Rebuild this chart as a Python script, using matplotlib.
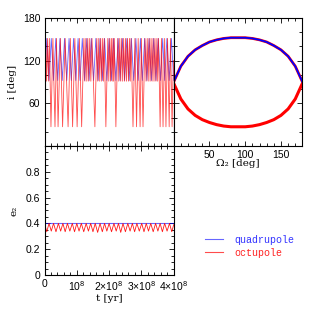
"""Inclusion and eccentricity evolution: quadrupole vs octupole."""
import matplotlib
matplotlib.use("Agg")
import matplotlib.pyplot as plt
from matplotlib.lines import Line2D
from matplotlib.ticker import MultipleLocator
import numpy as np

plt.rcParams["font.family"] = ["Liberation Sans", "DejaVu Sans"]
plt.rcParams["font.size"] = 7
plt.rcParams["mathtext.fontset"] = "custom"
plt.rcParams["mathtext.rm"] = "Liberation Sans"
plt.rcParams["mathtext.it"] = "Liberation Sans"

# ---- data (time in units of 1e8 yr) ----
quad_t = [0.00, 0.07, 0.14, 0.21, 0.28, 0.35, 0.41, 0.48, 0.55, 0.62,
          0.69, 0.76, 0.83, 0.90, 0.97, 1.04, 1.10, 1.17, 1.24, 1.31,
          1.38, 1.45, 1.52, 1.59, 1.66, 1.72, 1.79, 1.86, 1.93, 2.00,
          2.07, 2.14, 2.21, 2.28, 2.34, 2.41, 2.48, 2.55, 2.62, 2.69,
          2.76, 2.83, 2.90, 2.97, 3.03, 3.10, 3.17, 3.24, 3.31, 3.38,
          3.45, 3.52, 3.59, 3.66, 3.72, 3.79, 3.86, 3.93, 4.00]
quad_i = [92, 151, 92, 151, 92, 151, 92, 151, 92, 151,
          92, 151, 92, 151, 92, 151, 92, 151, 92, 151,
          92, 151, 92, 151, 92, 151, 92, 151, 92, 151,
          92, 151, 92, 151, 92, 151, 92, 151, 92, 151,
          92, 151, 92, 151, 92, 151, 92, 151, 92, 151,
          92, 151, 92, 151, 92, 151, 92, 151, 92]

oct_t = [0.00, 0.03, 0.06, 0.09, 0.12, 0.15, 0.175, 0.20, 0.23, 0.26,
         0.29, 0.325, 0.35, 0.37, 0.395, 0.42, 0.455, 0.49, 0.525, 0.56,
         0.60, 0.64, 0.685, 0.73, 0.765, 0.80, 0.835, 0.87, 0.905, 0.94,
         0.975, 1.01, 1.045, 1.08, 1.115, 1.15, 1.185, 1.22, 1.25, 1.28,
         1.31, 1.34, 1.37, 1.40, 1.435, 1.47, 1.515, 1.56, 1.59, 1.62,
         1.65, 1.68, 1.71, 1.74, 1.77, 1.80, 1.825, 1.85, 1.875, 1.90,
         1.93, 1.96, 1.99, 2.02, 2.045, 2.07, 2.095, 2.12, 2.14, 2.16,
         2.185, 2.21, 2.24, 2.27, 2.30, 2.33, 2.36, 2.39, 2.42, 2.45,
         2.48, 2.51, 2.54, 2.57, 2.60, 2.63, 2.655, 2.68, 2.71, 2.74,
         2.77, 2.80, 2.825, 2.85, 2.875, 2.90, 2.93, 2.96, 2.98, 3.00,
         3.025, 3.05, 3.08, 3.11, 3.145, 3.18, 3.21, 3.24, 3.27, 3.30,
         3.33, 3.36, 3.39, 3.42, 3.45, 3.48, 3.505, 3.53, 3.555, 3.58,
         3.60, 3.62, 3.645, 3.67, 3.695, 3.72, 3.74, 3.76, 3.785, 3.81,
         3.835, 3.86, 3.88, 3.90, 3.925, 3.95, 3.975, 4.00]
oct_i = [91, 151, 91, 151, 91, 151, 90, 27, 89, 151,
         90, 27, 89, 151, 90, 27, 89, 151, 90, 27,
         89, 151, 90, 27, 89, 151, 90, 27, 89, 151,
         90, 27, 89, 151, 90, 27, 89, 151, 91, 151,
         91, 151, 91, 151, 91, 151, 90, 27, 89, 151,
         91, 151, 91, 151, 91, 151, 91, 151, 90, 27,
         89, 151, 91, 151, 91, 151, 91, 151, 91, 151,
         90, 27, 89, 151, 91, 151, 91, 151, 91, 151,
         91, 151, 91, 151, 91, 151, 91, 151, 90, 27,
         89, 151, 90, 27, 89, 151, 90, 27, 89, 151,
         90, 27, 89, 151, 91, 151, 91, 151, 91, 151,
         91, 151, 91, 151, 91, 151, 91, 151, 90, 27,
         89, 151, 90, 27, 89, 151, 90, 27, 89, 151,
         90, 27, 89, 151, 90, 27, 89, 120]

# i vs Omega_2 trajectories
omega = [0, 10, 20, 30, 40, 50, 60, 70, 80, 90,
         100, 110, 120, 130, 140, 150, 160, 170, 180]
inc_upper = [90, 112, 126, 135, 141, 146, 149, 151, 152, 152,
             152, 151, 149, 146, 141, 135, 126, 112, 90]
inc_lower = [88, 66, 52, 43, 37, 33, 30, 28, 27, 27,
             27, 28, 30, 33, 37, 43, 52, 66, 88]

# outer eccentricity
e2_quad_t = [0.00, 4.00]
e2_quad = [0.403, 0.403]
e2_oct_t = [0.00, 0.07, 0.14, 0.21, 0.28, 0.355, 0.43, 0.50, 0.57, 0.64,
            0.71, 0.785, 0.86, 0.93, 1.00, 1.07, 1.14, 1.215, 1.29, 1.36,
            1.43, 1.50, 1.57, 1.645, 1.72, 1.79, 1.86, 1.93, 2.00, 2.075,
            2.15, 2.22, 2.29, 2.36, 2.43, 2.505, 2.58, 2.65, 2.72, 2.79,
            2.86, 2.935, 3.01, 3.08, 3.15, 3.22, 3.29, 3.365, 3.44, 3.51,
            3.58, 3.65, 3.72, 3.795, 3.87, 3.94, 4.00]
e2_oct = [0.40, 0.335, 0.40, 0.34, 0.40, 0.335, 0.40, 0.34, 0.40, 0.335,
          0.40, 0.34, 0.40, 0.335, 0.40, 0.34, 0.40, 0.335, 0.40, 0.34,
          0.40, 0.335, 0.40, 0.33, 0.40, 0.335, 0.40, 0.34, 0.40, 0.335,
          0.40, 0.34, 0.40, 0.33, 0.40, 0.335, 0.40, 0.34, 0.40, 0.335,
          0.40, 0.34, 0.40, 0.335, 0.40, 0.34, 0.40, 0.335, 0.40, 0.34,
          0.40, 0.335, 0.40, 0.34, 0.40, 0.335, 0.39]

t_ticks = [0, 1e8, 2e8, 3e8, 4e8]
t_labels = ["0", r"$10^8$", r"$2{\times}10^8$", r"$3{\times}10^8$",
            r"$4{\times}10^8$"]

BLUE = "#0000ff"
RED = "#ff0000"
serif = {"family": ["DejaVu Serif"], "size": 7.5}


def style(ax):
    ax.tick_params(which="both", direction="in", top=True, right=True,
                   width=0.6, labelsize=7.5, pad=3)
    ax.tick_params(which="major", length=3.5)
    ax.tick_params(which="minor", length=2)
    for s in ax.spines.values():
        s.set_linewidth(0.8)


fig = plt.figure(figsize=(3.19, 3.19), dpi=100)
ax_i = fig.add_axes([0.1395, 0.5423, 0.405, 0.402])
ax_om = fig.add_axes([0.5445, 0.5423, 0.4035, 0.402])
ax_e = fig.add_axes([0.1395, 0.138, 0.405, 0.4045])

# top-left: inclination vs time
ax_i.plot(np.array(quad_t) * 1e8, quad_i, color=BLUE, lw=0.6, alpha=0.6)
ax_i.plot(np.array(oct_t) * 1e8, oct_i, color=RED, lw=0.6, alpha=0.7)
ax_i.set_xlim(0, 4e8)
ax_i.set_ylim(0, 180)
ax_i.set_xticks(t_ticks)
ax_i.set_xticklabels([])
ax_i.xaxis.set_minor_locator(MultipleLocator(0.2e8))
ax_i.set_yticks([0, 60, 120, 180])
ax_i.set_yticklabels(["", "60", "120", "180"])
ax_i.yaxis.set_minor_locator(MultipleLocator(20))
ax_i.set_ylabel("i [deg]", fontdict=serif)
ax_i.yaxis.set_label_coords(-0.215, 0.5)
style(ax_i)

# top-right: inclination vs Omega_2
ax_om.plot(omega, inc_lower, color=RED, lw=2.2, solid_capstyle="round")
ax_om.plot(omega, inc_upper, color=RED, lw=2.0, solid_capstyle="round")
ax_om.plot(omega, inc_upper, color=BLUE, lw=1.3)
ax_om.set_xlim(0, 180)
ax_om.set_ylim(0, 180)
ax_om.set_xticks([0, 50, 100, 150])
ax_om.set_xticklabels(["", "50", "100", "150"])
ax_om.xaxis.set_minor_locator(MultipleLocator(10))
ax_om.set_yticks([0, 60, 120, 180])
ax_om.set_yticklabels([])
ax_om.yaxis.set_minor_locator(MultipleLocator(20))
ax_om.set_xlabel("Ω₂ [deg]", fontdict=serif)
ax_om.xaxis.set_label_coords(0.5, -0.1)
style(ax_om)

# bottom-left: outer eccentricity vs time
ax_e.plot(np.array(e2_quad_t) * 1e8, e2_quad, color=BLUE, lw=0.8, alpha=0.6)
ax_e.plot(np.array(e2_oct_t) * 1e8, e2_oct, color=RED, lw=0.6, alpha=0.9)
ax_e.set_xlim(0, 4e8)
ax_e.set_ylim(0, 1)
ax_e.set_xticks(t_ticks)
ax_e.set_xticklabels(t_labels)
ax_e.xaxis.set_minor_locator(MultipleLocator(0.2e8))
ax_e.set_yticks([0, 0.2, 0.4, 0.6, 0.8, 1.0])
ax_e.set_yticklabels(["0", "0.2", "0.4", "0.6", "0.8", ""])
ax_e.yaxis.set_minor_locator(MultipleLocator(0.05))
ax_e.set_ylabel("e₂", fontdict=serif)
ax_e.yaxis.set_label_coords(-0.2, 0.5)
ax_e.set_xlabel("t [yr]", fontdict=serif)
ax_e.xaxis.set_label_coords(0.5, -0.15)
style(ax_e)

# legend
handles = [Line2D([], [], color=BLUE, lw=0.8, alpha=0.6),
           Line2D([], [], color=RED, lw=0.8, alpha=0.7)]
leg = fig.legend(handles, ["quadrupole", "octupole"], loc="upper left",
                 bbox_to_anchor=(0.615, 0.292), frameon=False,
                 prop={"family": ["Liberation Mono"], "size": 7.2},
                 handlelength=1.8, handletextpad=1.1, labelspacing=0.3)
for txt, c in zip(leg.get_texts(), ["#3333ff", "#ff2222"]):
    txt.set_color(c)

fig.savefig("out.png", dpi=100)
